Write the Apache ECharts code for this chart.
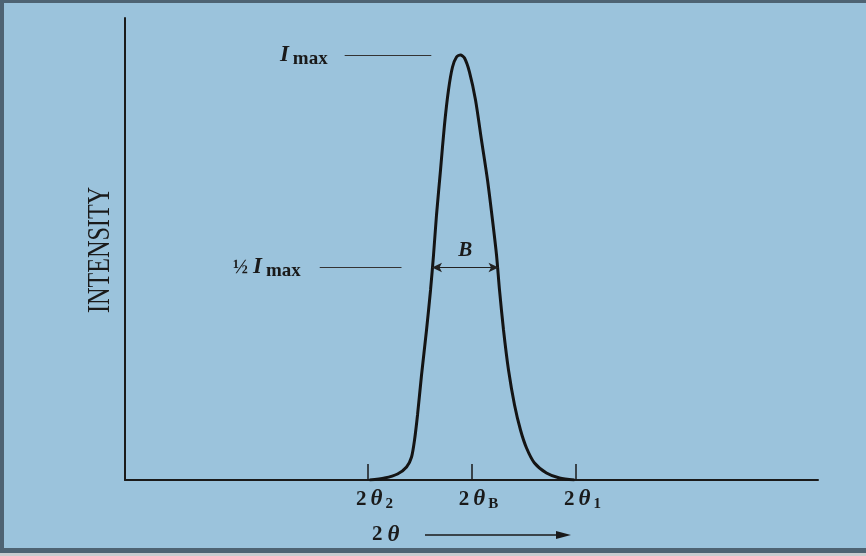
<!DOCTYPE html>
<html>
<head>
<meta charset="utf-8">
<script src="https://cdn.jsdelivr.net/npm/echarts@6/dist/echarts.min.js"></script>
<style>
html,body{margin:0;padding:0;background:#c9cccf;}
#chart{width:866px;height:556px;}
</style>
</head>
<body>
<div id="chart"></div>
<script>
// 2θ positions (arbitrary units) and intensity values
var curveX = [35.29, 37.46, 39.33, 40.63, 41.35, 41.78, 42.21, 42.79, 43.51, 44.09, 44.52, 44.95, 45.53, 46.10, 46.68, 47.26, 47.84, 48.42, 48.99, 49.71, 50.58, 51.44, 52.31, 53.03, 53.61, 54.04, 54.62, 55.34, 56.21, 57.07, 57.94, 59.09, 60.82, 62.70, 64.86];
var curveY = [0, 0.43, 1.30, 2.81, 4.98, 8.66, 14.07, 22.73, 32.47, 41.13, 48.70, 57.36, 67.10, 76.84, 84.42, 89.39, 91.56, 92, 91.34, 88.31, 82.25, 73.59, 64.94, 56.28, 48.70, 41.13, 32.47, 23.81, 16.23, 10.82, 6.93, 3.68, 1.52, 0.43, 0];
var tickValues = [35, 50, 65];
var tickLabels = ['2{it|θ}{sub|2}', '2{it|θ}{sub|B}', '2{it|θ}{sub|1}'];
var iMax = 92;
var halfMax = 46;
var iMaxLineX = [31.7, 44.2];
var halfLineX = [28.1, 39.9];
var widthB = [44.3, 53.9];

var serif = '"Liberation Serif", "DejaVu Serif", serif';
var ink = '#1a1a1a';
var chart = echarts.init(document.getElementById('chart'));
var data = curveX.map(function (x, i) { return [x, curveY[i]]; });

var option = {
  backgroundColor: '#9bc3dc',
  animation: false,
  grid: { left: 125, right: 48, top: 18, bottom: 76 },
  xAxis: {
    type: 'value', min: 0, max: 100,
    splitLine: { show: false },
    axisLine: { show: true, lineStyle: { color: ink, width: 2 } },
    axisTick: { show: true, inside: true, length: 16, customValues: tickValues, lineStyle: { color: ink, width: 1.5 } },
    axisLabel: {
      show: true, customValues: tickValues, margin: 7,
      formatter: function (v) { return tickLabels[tickValues.indexOf(v)] || ''; },
      color: ink, fontFamily: serif, fontSize: 21, fontWeight: 'bold', padding: [0, 0, 0, 14],
      rich: {
        it: { fontFamily: serif, fontSize: 23, fontStyle: 'italic', fontWeight: 'bold', color: ink, padding: [0, 3, 0, 4] },
        sub: { fontFamily: serif, fontSize: 15, fontWeight: 'bold', color: ink, verticalAlign: 'bottom', padding: [10, 0, 0, 0] }
      }
    }
  },
  yAxis: {
    type: 'value', min: 0, max: 100,
    splitLine: { show: false },
    axisLine: { show: true, lineStyle: { color: ink, width: 2 } },
    axisTick: { show: false },
    axisLabel: { show: false }
  },
  series: [{
    type: 'line',
    data: data,
    smooth: 0.25,
    symbol: 'none',
    lineStyle: { color: '#141414', width: 3 },
    markLine: {
      silent: true,
      symbol: 'none',
      lineStyle: { color: '#333', width: 1, type: 'solid' },
      data: [
        [
          { coord: [iMaxLineX[0], iMax], label: { show: true, position: 'start', distance: 17, formatter: '{i|I}{s|max}', rich: {
            i: { fontFamily: serif, fontSize: 23, fontStyle: 'italic', fontWeight: 'bold', color: ink, padding: [0, 4, 0, 0] },
            s: { fontFamily: serif, fontSize: 19, fontWeight: 'bold', color: ink, verticalAlign: 'bottom', padding: [8, 0, 0, 0] } } } },
          { coord: [iMaxLineX[1], iMax] }
        ],
        [
          { coord: [halfLineX[0], halfMax], label: { show: true, position: 'start', distance: 19, formatter: '{f|½}{i|I}{s|max}', rich: {
            f: { fontFamily: serif, fontSize: 20, fontWeight: 'bold', color: ink, padding: [0, 5, 0, 0] },
            i: { fontFamily: serif, fontSize: 23, fontStyle: 'italic', fontWeight: 'bold', color: ink, padding: [0, 4, 0, 0] },
            s: { fontFamily: serif, fontSize: 19, fontWeight: 'bold', color: ink, verticalAlign: 'bottom', padding: [8, 0, 0, 0] } } } },
          { coord: [halfLineX[1], halfMax] }
        ],
        [
          { coord: [widthB[0], halfMax], symbol: 'arrow', symbolSize: [7, 10],
            lineStyle: { color: '#222', width: 1.2 },
            label: { show: true, position: 'insideMiddleTop', distance: 6, formatter: 'B', fontFamily: serif, fontSize: 21, fontStyle: 'italic', fontWeight: 'bold', color: ink } },
          { coord: [widthB[1], halfMax], symbol: 'arrow', symbolSize: [7, 10] }
        ]
      ]
    }
  }],
  graphic: [
    { type: 'rect', shape: { x: 0, y: 0, width: 866, height: 3 }, style: { fill: '#4e6373' }, silent: true },
    { type: 'rect', shape: { x: 0, y: 0, width: 4, height: 553 }, style: { fill: '#4e6373' }, silent: true },
    { type: 'rect', shape: { x: 0, y: 548, width: 866, height: 5 }, style: { fill: '#4e6373' }, silent: true },
    { type: 'rect', shape: { x: 0, y: 553, width: 866, height: 3 }, style: { fill: '#c9cccf' }, silent: true },
    { type: 'text', x: 100, y: 250, rotation: Math.PI / 2, scaleX: 0.78, scaleY: 1.05,
      style: { text: 'INTENSITY', fontFamily: serif, fontSize: 31, fill: ink, align: 'center', verticalAlign: 'middle' } },
    { type: 'text', x: 372, y: 535,
      style: { text: '2{it|θ}', fontFamily: serif, fontSize: 21, fontWeight: 'bold', fill: ink, verticalAlign: 'middle',
        rich: { it: { fontFamily: serif, fontSize: 23, fontStyle: 'italic', fontWeight: 'bold', fill: ink, padding: [0, 0, 0, 5] } } } },
    { type: 'line', shape: { x1: 425, y1: 535, x2: 560, y2: 535 }, style: { stroke: ink, lineWidth: 1.5 } },
    { type: 'polygon', shape: { points: [[571, 535], [556, 531], [556, 539]] }, style: { fill: ink } }
  ]
};
chart.setOption(option);
</script>
</body>
</html>
